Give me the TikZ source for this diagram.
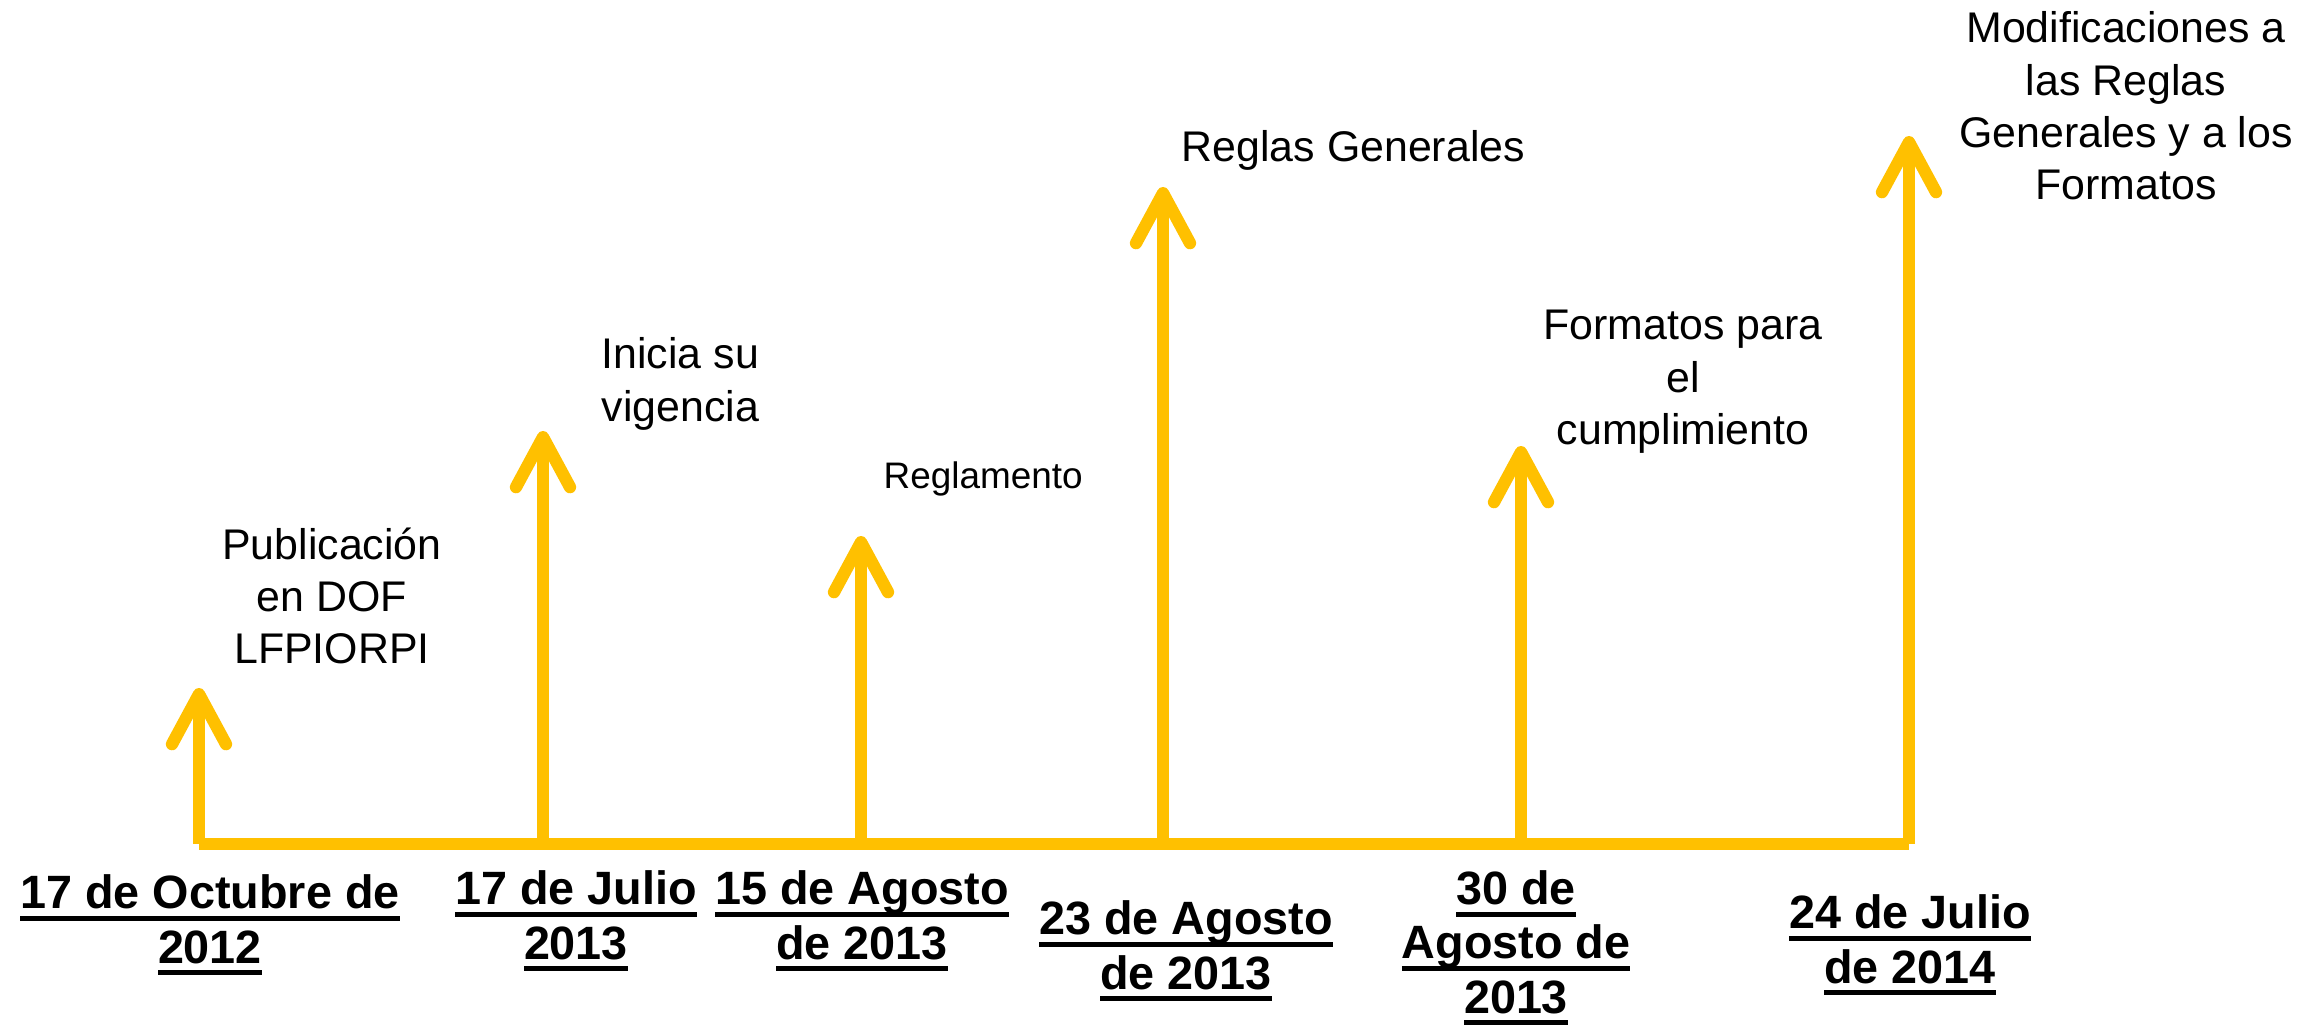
\documentclass[tikz,border=0pt]{standalone}
\usepackage{fontspec}
\setmainfont{Liberation Sans}
\usepackage{xcolor}
\usetikzlibrary{arrows.meta}
\definecolor{gold}{HTML}{FFC000}
% underline at a fixed depth, also under descenders
\newcommand{\dateul}[1]{\setbox0\hbox{#1}\rlap{\rule[-3.4pt]{\wd0}{1.4pt}}\box0}
\begin{document}
\begin{tikzpicture}[->,>={Straight Barb[length=5mm,width=5.4mm,round]},
  event/.style={font=\fontsize{12.2}{14.9}\selectfont, inner sep=0pt},
  small event/.style={font=\fontsize{10.5}{12.5}\selectfont, inner sep=0pt},
  date/.style={align=center, font=\fontsize{13.3}{15.4}\selectfont\bfseries, inner sep=0pt}]
  \useasboundingbox (0,0) rectangle (23.15,10.27);

  \coordinate (B1) at (1.99,1.83);
  \coordinate (B2) at (5.43,1.83);
  \coordinate (B3) at (8.61,1.83);
  \coordinate (B4) at (11.63,1.83);
  \coordinate (B5) at (15.21,1.83);
  \coordinate (B6) at (19.09,1.83);

  \coordinate (A1) at (1.99,3.39);
  \coordinate (A2) at (5.43,5.96);
  \coordinate (A3) at (8.61,4.91);
  \coordinate (A4) at (11.63,8.40);
  \coordinate (A5) at (15.21,5.81);
  \coordinate (A6) at (19.09,8.91);

  \node[event, align=center] (L1) at (3.32,4.31) {Publicación\\en DOF\\LFPIORPI};
  \node[event, align=left, anchor=west] (L2) at (6.01,6.43) {Inicia su\\vigencia};
  \node[small event, anchor=west] (L3) at (8.83,5.48) {Reglamento};
  \node[event, anchor=west] (L4) at (11.81,8.77) {Reglas Generales};
  \node[event, align=center] (L5) at (16.83,6.45) {Formatos para\\el\\cumplimiento};
  \node[event, align=center] (L6) at (21.26,9.21) {Modificaciones a\\las Reglas\\Generales y a los\\Formatos};

  \node[date] (D1) at (2.10,1.02) {\dateul{17 de Octubre de}\\\dateul{2012}};
  \node[date] (D2) at (5.76,1.06) {\dateul{17 de Julio}\\\dateul{2013}};
  \node[date] (D3) at (8.62,1.06) {\dateul{15 de Agosto}\\\dateul{de 2013}};
  \node[date] (D4) at (11.86,0.76) {\dateul{23 de Agosto}\\\dateul{de 2013}};
  \node[date] (D5) at (15.16,0.79) {\dateul{30 de}\\\dateul{Agosto de}\\\dateul{2013}};
  \node[date] (D6) at (19.10,0.82) {\dateul{24 de Julio}\\\dateul{de 2014}};

  \path[gold, line width=3.5pt]
     (B1) edge [-] (B6)
     (B1) edge (A1)
     (B2) edge (A2)
     (B3) edge (A3)
     (B4) edge (A4)
     (B5) edge (A5)
     (B6) edge (A6);
\end{tikzpicture}
\end{document}
